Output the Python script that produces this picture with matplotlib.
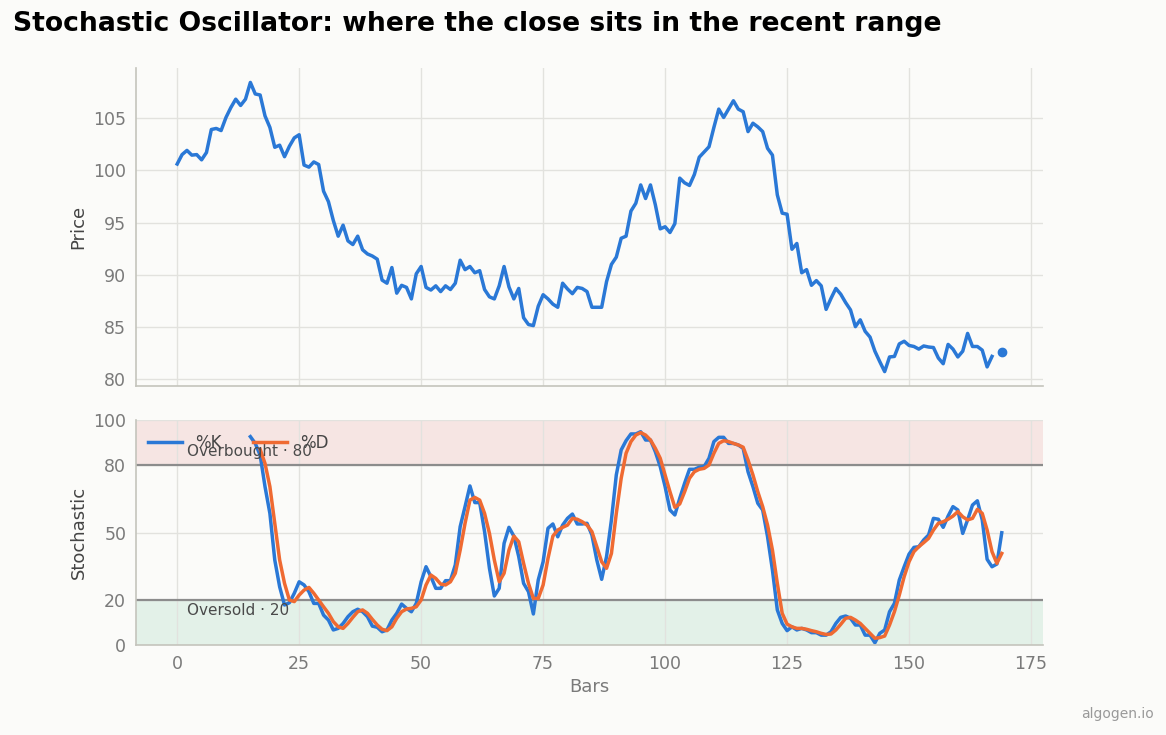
import numpy as np
import matplotlib.pyplot as plt

# Données
close = [100.6, 101.5, 101.9, 101.45, 101.5, 101.0, 101.7, 103.9, 104.0, 103.8,
         105.05, 106.0, 106.8, 106.2, 106.8, 108.4, 107.3, 107.2, 105.2, 104.1,
         102.2, 102.4, 101.3, 102.3, 103.1, 103.4, 100.5, 100.3, 100.8, 100.55,
         98.0, 97.0, 95.2, 93.7, 94.75, 93.25, 92.9, 93.7, 92.4, 92.0,
         91.8, 91.5, 89.5, 89.2, 90.7, 88.25, 89.0, 88.8, 87.7, 90.1,
         90.8, 88.8, 88.55, 88.95, 88.4, 88.95, 88.6, 89.2, 91.4, 90.5,
         90.8, 90.2, 90.4, 88.6, 87.9, 87.7, 88.95, 90.8, 88.85, 87.7,
         88.7, 85.9, 85.25, 85.15, 87.0, 88.1, 87.7, 87.2, 86.9, 89.2,
         88.65, 88.2, 88.8, 88.7, 88.4, 86.9, 86.9, 86.9, 89.35, 91.0,
         91.7, 93.5, 93.7, 96.1, 96.85, 98.6, 97.3, 98.6, 96.7, 94.4,
         94.6, 94.05, 94.9, 99.25, 98.8, 98.55, 99.6, 101.25, 101.75, 102.25,
         104.1, 105.85, 105.05, 105.85, 106.65, 105.85, 105.6, 103.7, 104.5, 104.15,
         103.7, 102.1, 101.45, 97.65, 95.9, 95.8, 92.45, 93.0, 90.2, 90.5,
         89.0, 89.45, 88.95, 86.7, 87.75, 88.7, 88.15, 87.35, 86.65, 85.05,
         85.7, 84.6, 84.05, 82.7, 81.7, 80.75, 82.15, 82.2, 83.4, 83.65,
         83.25, 83.15, 82.9, 83.2, 83.1, 83.05, 82.05, 81.5, 83.35, 82.9,
         82.15, 82.7, 84.4, 83.15, 83.15, 82.8, 81.2, 82.2, np.nan, 82.6]

k_start = 15
pct_k = [92.6, 89.6, 84.4, 70.4, 58.5, 37.8, 25.9, 17.8, 18.8, 23.0,
         28.1, 26.7, 23.7, 18.5, 18.5, 13.3, 11.1, 6.7, 7.4, 9.6,
         12.6, 14.8, 15.9, 14.8, 12.6, 8.4, 7.9, 5.9, 6.7, 11.1,
         14.1, 18.2, 16.3, 14.8, 18.5, 28.1, 34.8, 30.4, 25.2, 25.2,
         28.6, 28.6, 35.6, 52.6, 61.5, 70.7, 63.3, 63.3, 50.4, 34.1,
         21.8, 25.2, 45.2, 52.3, 48.4, 39.3, 27.4, 23.7, 13.8, 28.9,
         37.0, 51.9, 53.8, 48.1, 53.3, 56.3, 58.2, 53.8, 53.8, 54.1,
         48.9, 37.8, 29.2, 39.3, 55.6, 75.6, 86.7, 90.8, 93.8, 93.8,
         94.8, 91.1, 91.1, 85.9, 79.3, 70.4, 60.0, 57.8, 65.2, 71.9,
         78.1, 78.1, 79.0, 79.3, 83.0, 90.4, 92.3, 92.3, 89.6, 89.6,
         88.9, 87.4, 77.0, 70.4, 63.0, 60.0, 48.1, 33.3, 15.6, 9.6,
         6.4, 8.1, 6.7, 7.4, 6.7, 5.5, 5.5, 4.4, 4.4, 5.9,
         9.6, 12.3, 12.9, 11.9, 8.9, 8.9, 4.4, 4.4, 1.0, 5.2,
         6.7, 14.8, 18.5, 28.9, 34.8, 40.4, 43.4, 43.7, 46.7, 48.9,
         56.3, 55.9, 52.3, 57.3, 61.5, 60.0, 49.6, 55.6, 62.2, 64.1,
         55.6, 38.1, 34.8, 36.0, 49.9]

d_start = 17
pct_d = [87.0, 80.7, 70.4, 54.0, 37.8, 27.4, 20.0, 19.3, 22.2, 24.4,
         25.6, 23.0, 20.0, 17.0, 14.1, 10.4, 8.1, 7.4, 9.6, 12.3,
         14.8, 15.6, 14.1, 11.4, 8.9, 7.0, 6.4, 8.1, 11.9, 14.8,
         16.0, 16.3, 17.0, 20.0, 26.7, 31.1, 29.6, 27.1, 26.7, 28.1,
         31.9, 42.2, 54.1, 64.4, 65.6, 64.4, 58.5, 49.6, 37.8, 28.1,
         31.9, 42.2, 48.4, 45.9, 36.3, 27.4, 20.7, 20.7, 26.7, 38.5,
         48.4, 51.1, 52.3, 53.3, 56.3, 55.9, 54.8, 53.3, 50.4, 43.7,
         37.0, 34.1, 40.7, 58.5, 74.1, 85.2, 90.4, 93.3, 94.4, 93.3,
         91.1, 87.4, 83.0, 75.6, 68.1, 61.2, 62.7, 68.1, 74.1, 77.0,
         78.1, 78.5, 80.0, 85.2, 89.6, 90.8, 90.4, 89.6, 88.9, 87.9,
         82.2, 75.6, 68.1, 61.5, 53.3, 42.2, 27.4, 14.1, 9.3, 8.1,
         7.4, 7.4, 7.0, 6.4, 5.9, 5.2, 4.7, 4.9, 6.7, 9.2,
         11.9, 12.3, 11.1, 9.6, 7.4, 5.2, 3.0, 3.3, 4.0, 8.9,
         14.8, 22.2, 30.4, 37.0, 41.5, 43.7, 45.5, 47.4, 51.1, 54.1,
         54.8, 55.9, 57.3, 59.3, 57.0, 55.6, 56.3, 60.3, 58.5, 51.1,
         41.5, 36.3, 40.7]

overbought = 80
oversold = 20
stoch_ticks = [0, 20, 50, 80, 100]

bars = np.arange(len(close))
k_bars = np.arange(k_start, k_start + len(pct_k))
d_bars = np.arange(d_start, d_start + len(pct_d))

# Style
bg = "#fbfbf9"
blue = "#2a78d6"
orange = "#ef6a32"
tick_col = "#7a7a7a"
spine_col = "#c4c4bc"
grid_col = "#e2e2de"

plt.rcParams["font.family"] = "DejaVu Sans"

fig, (ax1, ax2) = plt.subplots(2, 1, sharex=True, figsize=(11.66, 7.35), dpi=100,
                               gridspec_kw={"height_ratios": [318, 225]})
fig.patch.set_facecolor(bg)
fig.subplots_adjust(left=0.1166, right=0.8945, top=0.9075, bottom=0.1224, hspace=0.125)

for ax in (ax1, ax2):
    ax.set_facecolor(bg)
    ax.grid(True, color=grid_col, linewidth=1)
    for s in ("top", "right"):
        ax.spines[s].set_visible(False)
    for s in ("left", "bottom"):
        ax.spines[s].set_color(spine_col)
        ax.spines[s].set_linewidth(1.2)
    ax.tick_params(length=0, labelsize=12.5, colors=tick_col, pad=7)

# Panneau du prix
ax1.plot(bars, close, color=blue, linewidth=2.5)
ax1.plot(bars[-1], close[-1], "o", color=blue, markersize=6)
ax1.set_ylabel("Price", fontsize=13, color="#444444")
ax1.set_yticks([80, 85, 90, 95, 100, 105])

# Panneau stochastique
ax2.axhspan(overbought, 100, color="#e06a6a", alpha=0.15, linewidth=0)
ax2.axhspan(0, oversold, color="#5cb88a", alpha=0.15, linewidth=0)
ax2.axhline(overbought, color="#8c8c8c", linewidth=1.6)
ax2.axhline(oversold, color="#8c8c8c", linewidth=1.6)
ax2.plot(k_bars, pct_k, color=blue, linewidth=2.5, label="%K")
ax2.plot(d_bars, pct_d, color=orange, linewidth=2.5, label="%D")
ax2.text(2, overbought + 2.5, f"Overbought · {overbought}", fontsize=11, color="#4a4a4a", va="bottom")
ax2.text(2, oversold - 1.5, f"Oversold · {oversold}", fontsize=11, color="#4a4a4a", va="top")
ax2.set_ylim(0, 100)
ax2.set_yticks(stoch_ticks)
ax2.set_ylabel("Stochastic", fontsize=13, color="#444444")
ax2.set_xlabel("Bars", fontsize=13, color=tick_col)
ax2.legend(loc="upper left", ncol=2, frameon=False, fontsize=12, handlelength=2.0,
           bbox_to_anchor=(0.0, 0.995), borderaxespad=0.35, columnspacing=1.9,
           labelcolor="#444444")

fig.text(0.011, 0.967, "Stochastic Oscillator: where the close sits in the recent range",
         fontsize=19.2, fontweight="bold", ha="left", va="center")
fig.text(0.99, 0.028, "algogen.io", fontsize=10, color="#999999", ha="right", va="center")

plt.savefig("out.png", dpi=100, facecolor=bg)
